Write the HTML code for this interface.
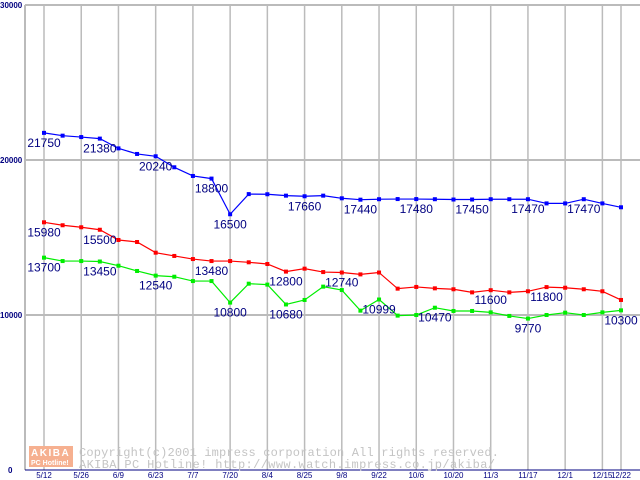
<!DOCTYPE html>
<html><head><meta charset="utf-8"><style>
html,body{margin:0;padding:0;background:#fff;}
svg{display:block;font-family:"Liberation Sans",sans-serif;}
</style></head><body>
<svg id="chart" width="640" height="480" viewBox="0 0 640 480"></svg>
<script>
const categories=["5/12","5/19","5/26","6/2","6/9","6/16","6/23","6/30","7/7","7/14","7/20","7/28","8/4","8/11","8/25","9/1","9/8","9/15","9/22","9/29","10/6","10/13","10/20","10/27","11/3","11/10","11/17","11/24","12/1","12/8","12/15","12/22"];
const tickLabels=["5/12","5/26","6/9","6/23","7/7","7/20","8/4","8/25","9/8","9/22","10/6","10/20","11/3","11/17","12/1","12/15","12/22"];
const tickIndex=[0,2,4,6,8,10,12,14,16,18,20,22,24,26,28,30,31];
const yTicks=[0,10000,20000,30000];
const blueValues=[21750,21570,21480,21380,20750,20390,20240,19530,18970,18800,16500,17800,17790,17700,17660,17700,17530,17440,17470,17480,17480,17470,17450,17450,17470,17470,17470,17200,17200,17470,17200,16950];
const redValues=[15980,15790,15660,15500,14840,14710,14020,13810,13610,13480,13480,13400,13290,12800,12990,12770,12740,12620,12740,11700,11810,11720,11660,11460,11600,11460,11530,11800,11760,11660,11530,10970];
const greenValues=[13700,13480,13480,13450,13180,12840,12540,12470,12190,12190,10800,12020,11960,10680,10970,11830,11610,10280,10999,9960,10000,10470,10260,10260,10170,9940,9770,10000,10150,10000,10170,10300];
const blueLabelIdx=[0,3,6,9,10,14,17,20,23,26,29];
const redLabelIdx=[0,3,9,13,16,24,27];
const greenLabelIdx=[0,3,6,10,13,18,21,26,31];

const svg=document.getElementById('chart');
const NS='http://www.w3.org/2000/svg';
const x0=44,x1=621,yBase=470,yTop=5,yMax=30000;
function xs(i){return x0+(x1-x0)*i/(categories.length-1);}
function ys(v){return yBase-(yBase-yTop)*v/yMax;}
function mk(tag,attrs){const e=document.createElementNS(NS,tag);for(const k in attrs)e.setAttribute(k,attrs[k]);svg.appendChild(e);return e;}

yTicks.forEach(t=>{
  if(t>0){const l=mk('line',{x1:25,x2:640,y1:ys(t),y2:ys(t),stroke:'#bbb','stroke-width':2});
  
  }
  const tx=mk('text',{x:t===0?8:0,y:ys(t)+3,'font-size':8,'font-weight':'bold',fill:'#000080'});
  tx.textContent=String(t);
  
  
});
tickIndex.forEach((ix,k)=>{
  const l=mk('line',{x1:xs(ix),x2:xs(ix),y1:yTop,y2:yBase,stroke:'#bbb','stroke-width':1.5});
  
  
  const tx=mk('text',{x:xs(ix),y:478,'font-size':8,'text-anchor':'middle',fill:'#000080'});
  tx.textContent=tickLabels[k];
  
  
});
const ya=mk('line',{x1:25,x2:25,y1:yTop,y2:yBase,stroke:'#bbb','stroke-width':2});


const xa=mk('line',{x1:25,x2:640,y1:yBase,y2:yBase,stroke:'#000080','stroke-width':1});



const logo=mk('rect',{x:29,y:446,width:44,height:21,fill:'#f6b090'});


const lt1=mk('text',{x:31,y:456,'font-size':10,fill:'#fff','font-weight':'bold','letter-spacing':1.5});
lt1.textContent='AKIBA';


const lt2=mk('text',{x:31,y:465,'font-size':7,fill:'#fff','font-weight':'bold'});
lt2.textContent='PC Hotline!';


const c1=mk('text',{x:79,y:456,'font-size':12,fill:'#c4c4c4','font-family':'Liberation Mono, monospace',textLength:420,lengthAdjust:'spacing'});
c1.textContent='Copyright(c)2001 impress corporation All rights reserved.';


const c2=mk('text',{x:79,y:468,'font-size':12,fill:'#c4c4c4','font-family':'Liberation Mono, monospace',textLength:416,lengthAdjust:'spacing'});
c2.textContent='AKIBA PC Hotline!  http://www.watch.impress.co.jp/akiba/';



function series(vals,color,labels,name){
  const pts=vals.map((v,i)=>xs(i)+','+ys(v)).join(' ');
  const pl=mk('polyline',{points:pts,fill:'none',stroke:color,'stroke-width':1.2});
  
  
  vals.forEach((v,i)=>{
    const r=mk('rect',{x:xs(i)-2,y:ys(v)-2,width:4,height:4,fill:color});
    
    
  });
  labels.forEach(i=>{
    const t=mk('text',{x:xs(i),y:ys(vals[i])+14,'font-size':12,'text-anchor':'middle',fill:'#000080'});
    t.textContent=String(vals[i]);
    
    
  });
}
series(blueValues,'#0000ff',blueLabelIdx,'blue-series');
series(redValues,'#ff0000',redLabelIdx,'red-series');
series(greenValues,'#00ee00',greenLabelIdx,'green-series');
</script>
</body></html>
